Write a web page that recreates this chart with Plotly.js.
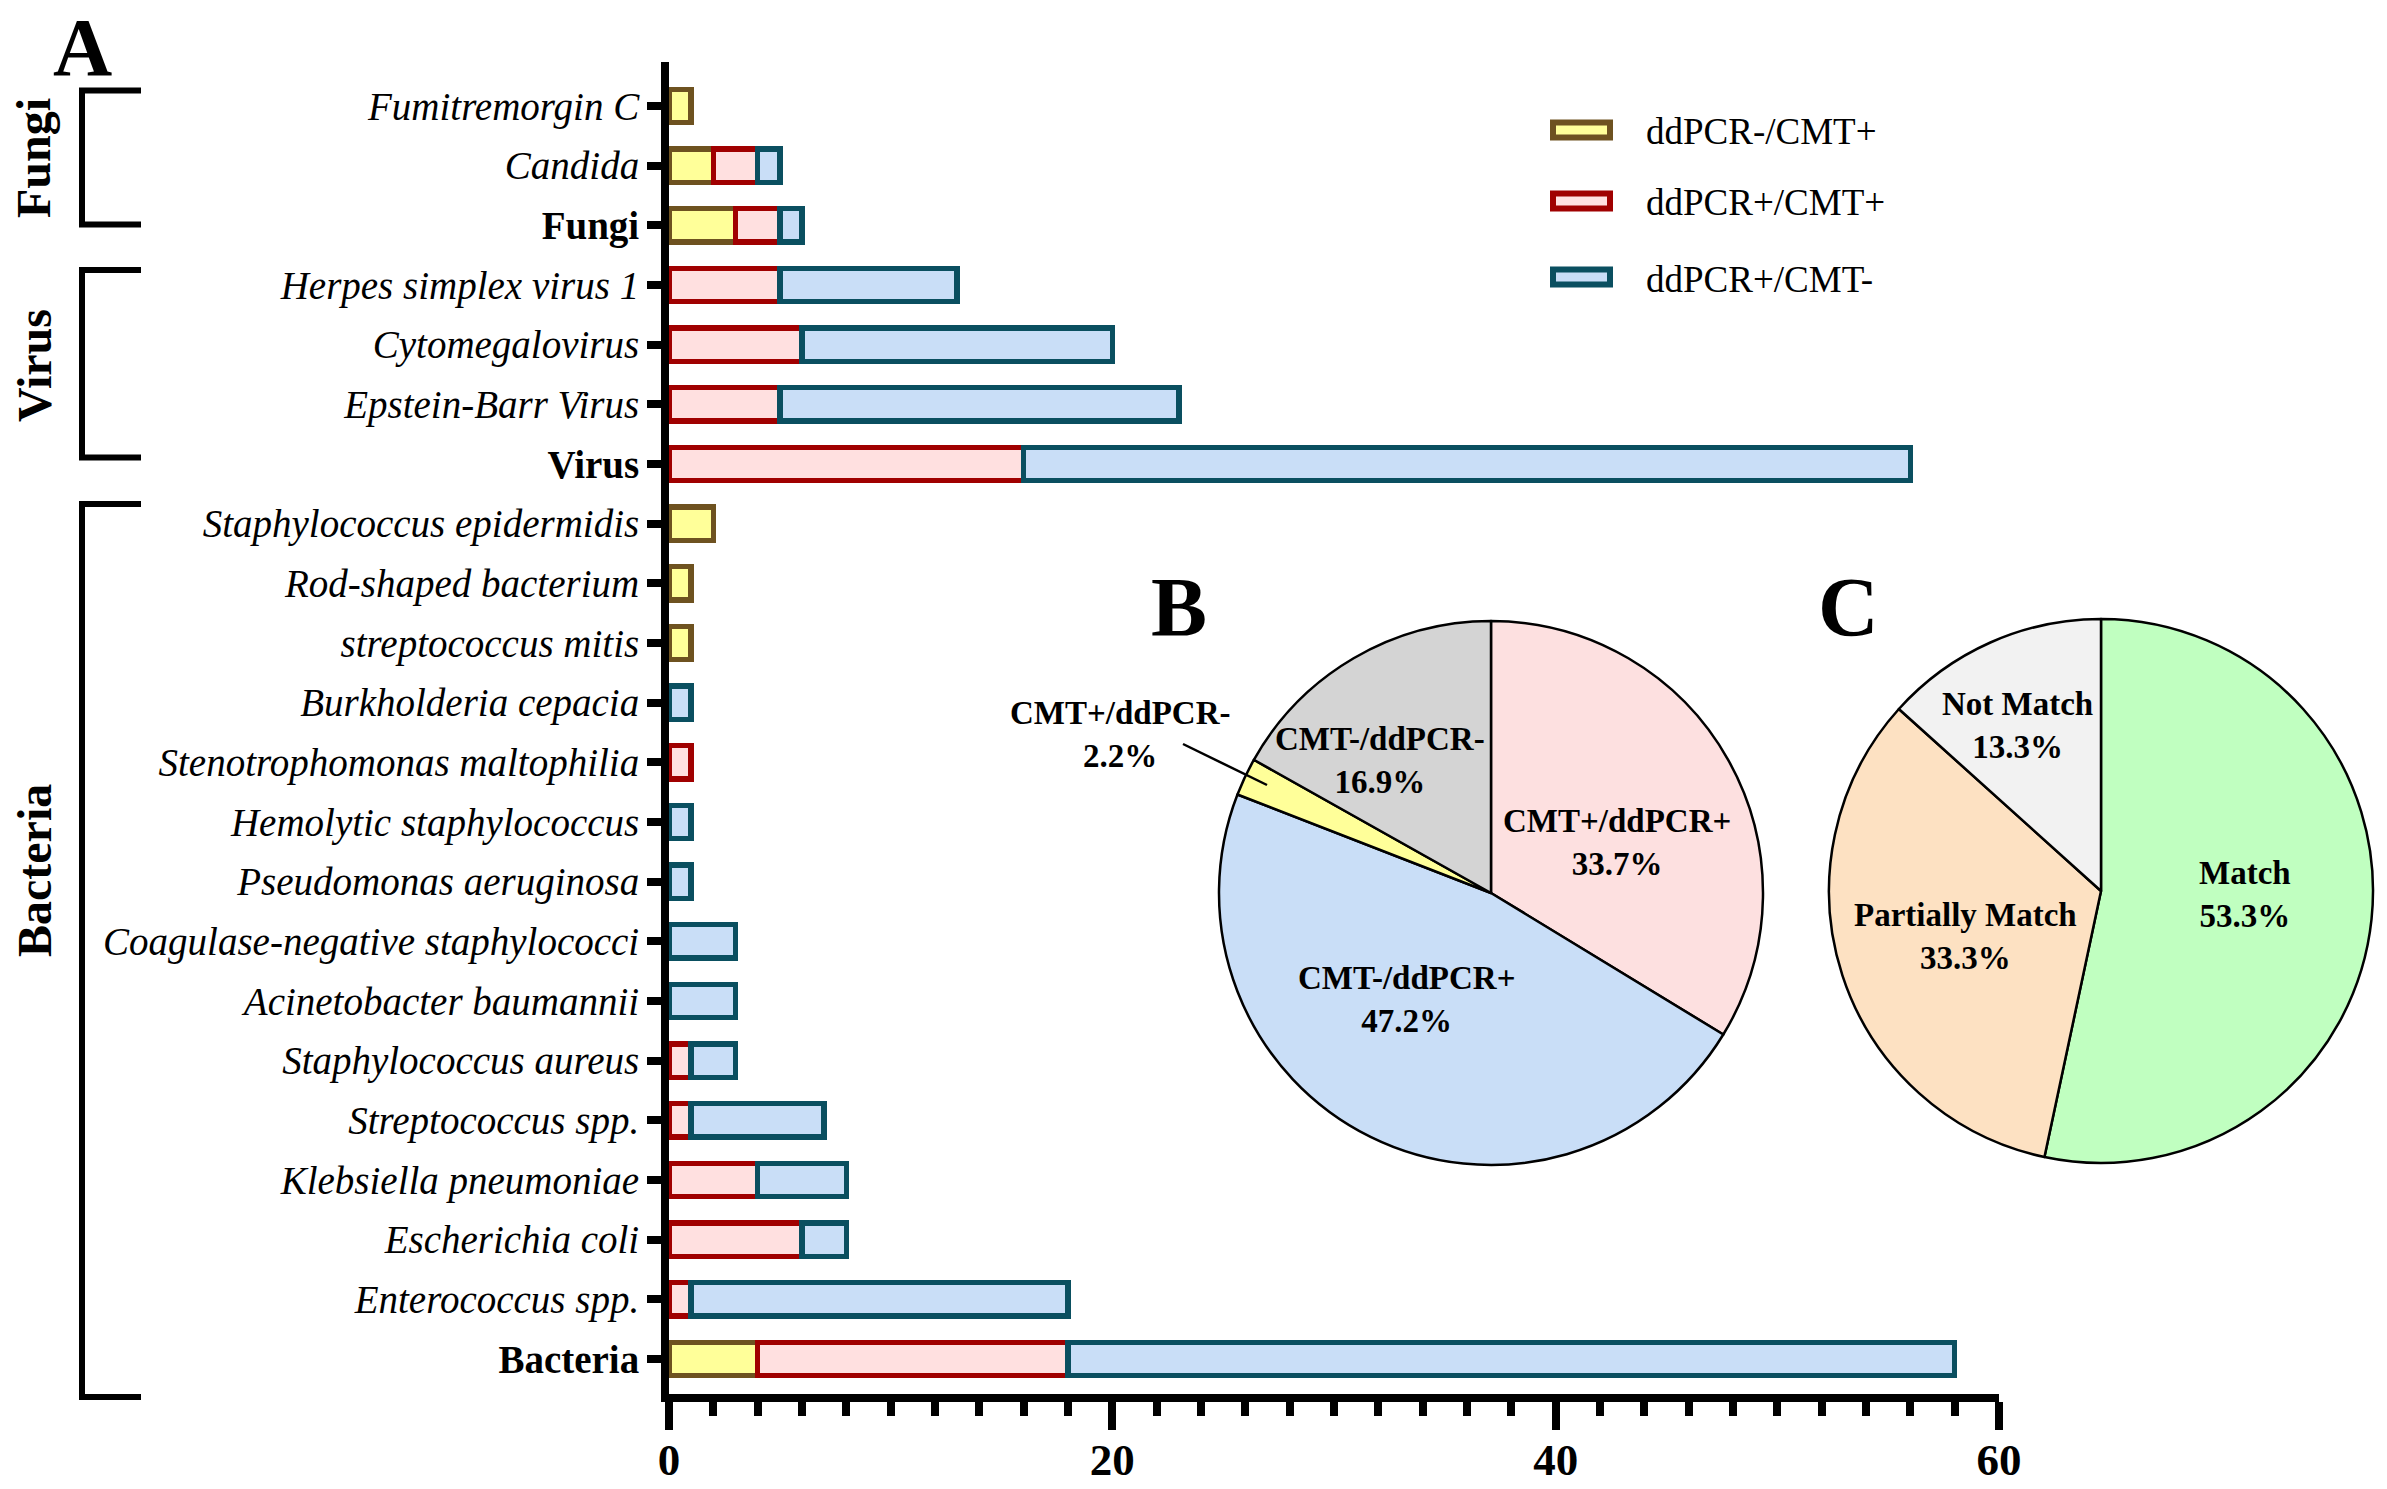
<!DOCTYPE html>
<html>
<head>
<meta charset="utf-8">
<script src="https://cdn.plot.ly/plotly-3.0.1.min.js"></script>
<style>html,body{margin:0;padding:0;background:#fff;}</style>
</head>
<body>
<div id="chart" style="width:2387px;height:1489px;"></div>
<script>
// ---------- data (top-to-bottom order as in the figure) ----------
const categories = ['Fumitremorgin C','Candida','Fungi','Herpes simplex virus 1','Cytomegalovirus','Epstein-Barr Virus','Virus',
  'Staphylococcus epidermidis','Rod-shaped bacterium','streptococcus mitis','Burkholderia cepacia','Stenotrophomonas maltophilia',
  'Hemolytic staphylococcus','Pseudomonas aeruginosa','Coagulase-negative staphylococci','Acinetobacter baumannii',
  'Staphylococcus aureus','Streptococcus spp.','Klebsiella pneumoniae','Escherichia coli','Enterococcus spp.','Bacteria'];
const groupRows = ['Fungi','Virus','Bacteria'];
const ddNegCmtPos = [1,2,3,0,0,0,0,2,1,1,0,0,0,0,0,0,0,0,0,0,0,4];
const ddPosCmtPos = [0,2,2,5,6,5,16,0,0,0,0,1,0,0,0,0,1,1,4,6,1,14];
const ddPosCmtNeg = [0,1,1,8,14,18,40,0,0,0,1,0,1,1,3,3,2,6,4,2,17,40];
const seriesNames = ['ddPCR-/CMT+','ddPCR+/CMT+','ddPCR+/CMT-'];
const xTickVals = [0,20,40,60];

const pieBLabels = ['CMT+/ddPCR+','CMT-/ddPCR+','CMT+/ddPCR-','CMT-/ddPCR-'];
const pieBValues = [30,42,2,15];
const pieCLabels = ['Match','Partially Match','Not Match'];
const pieCValues = [8,5,2];

// ---------- styles ----------
const W = 2387, H = 1489;
const FONT = 'Liberation Serif';
const fills = ['#ffff99','#ffe0e0','#c9def7'];
const edges = ['#6e5220','#a00000','#0a4f60'];
const pieBColors = ['#fde0e0','#c9def7','#ffff99','#d4d4d4'];
const pieCColors = ['#c0ffc0','#fde1c2','#f2f2f2'];
const px = x => x / W;
const py = y => 1 - y / H;

const order = categories.slice().reverse(); // bottom to top
const nz = arr => arr.map(v => v === 0 ? null : v);
const seriesVals = [ddNegCmtPos, ddPosCmtPos, ddPosCmtNeg];

const traces = seriesVals.map((vals, i) => ({
  type: 'bar', orientation: 'h', name: seriesNames[i],
  y: categories, x: nz(vals), width: 0.56,
  marker: {color: fills[i], line: {color: edges[i], width: 5.5}},
  xaxis: 'x', yaxis: 'y', hoverinfo: 'x+y+name'
}));

function pieDomain(cx, cy, r) {
  return {x: [px(cx - r), px(cx + r)], y: [py(cy + r), py(cy - r)]};
}
traces.push({
  type: 'pie', labels: pieBLabels, values: pieBValues, sort: false, direction: 'clockwise', rotation: 0,
  marker: {colors: pieBColors, line: {color: '#000', width: 2.5}}, textinfo: 'none',
  domain: pieDomain(1491, 893, 272), showlegend: false
});
traces.push({
  type: 'pie', labels: pieCLabels, values: pieCValues, sort: false, direction: 'clockwise', rotation: 0,
  marker: {colors: pieCColors, line: {color: '#000', width: 2.5}}, textinfo: 'none',
  domain: pieDomain(2101, 891, 272), showlegend: false
});

const ticktext = order.map(c => groupRows.includes(c) ? '<b>' + c + '</b>' : '<i>' + c + '</i>');

const annotations = [];
function ann(x, y, text, size, opt) {
  annotations.push(Object.assign({
    xref: 'paper', yref: 'paper', x: px(x), y: py(y), text: text, showarrow: false,
    xanchor: 'center', yanchor: 'middle',
    font: {family: FONT, size: size, color: '#000'}
  }, opt || {}));
}
// panel letters
ann(82, 0, '<b>A</b>', 82, {yanchor: 'top'});
ann(1179, 607, '<b>B</b>', 84);
ann(1849, 607, '<b>C</b>', 84);
// group labels
ann(34, 158, '<b>Fungi</b>', 48, {textangle: -90});
ann(34, 366, '<b>Virus</b>', 48, {textangle: -90});
ann(34, 871, '<b>Bacteria</b>', 48, {textangle: -90});
// legend
const legendY = [130, 201, 277];
seriesNames.forEach((n, i) => ann(1644, legendY[i] + 2, n, 37, {xanchor: 'left'}));

// pie labels
const pct = (v, arr) => (100 * v / arr.reduce((a, b) => a + b, 0)).toFixed(1) + '%';
const pieBPos = [[1617, 842], [1406, 999], [1120, 735], [1380, 760]];
pieBLabels.forEach((l, i) => ann(pieBPos[i][0], pieBPos[i][1], '<b>' + l + '<br>' + pct(pieBValues[i], pieBValues) + '</b>', 33));
const pieCPos = [[2245, 894], [1965, 936], [2017, 725]];
pieCLabels.forEach((l, i) => ann(pieCPos[i][0], pieCPos[i][1], '<b>' + l + '<br>' + pct(pieCValues[i], pieCValues) + '</b>', 33));

// shapes: brackets, legend swatches, leader line
const shapes = [];
function bracket(top, bottom) {
  shapes.push({type: 'path', xref: 'paper', yref: 'paper', line: {color: '#000', width: 6},
    path: `M${px(141)},${py(top)} L${px(82)},${py(top)} L${px(82)},${py(bottom)} L${px(141)},${py(bottom)}`});
}
bracket(90.5, 224.5);
bracket(270, 457.5);
bracket(504, 1397);
legendY.forEach((y, i) => shapes.push({type: 'rect', xref: 'paper', yref: 'paper',
  x0: px(1553), x1: px(1610), y0: py(y - 7.5), y1: py(y + 7.5),
  fillcolor: fills[i], line: {color: edges[i], width: 6}}));
shapes.push({type: 'line', xref: 'paper', yref: 'paper', x0: px(1183), y0: py(744), x1: px(1267), y1: py(785),
  line: {color: '#000', width: 2.5}});

const layout = {
  width: W, height: H, autosize: false,
  margin: {l: 0, r: 0, t: 0, b: 0, pad: 0},
  paper_bgcolor: '#fff', plot_bgcolor: 'rgba(0,0,0,0)',
  barmode: 'stack', bargap: 0.4, showlegend: false,
  font: {family: FONT, color: '#000'},
  xaxis: {
    domain: [px(669), px(1999)], range: [0, 60], automargin: false,
    tickmode: 'array', tickvals: xTickVals, ticktext: xTickVals.map(String),
    ticks: 'outside', ticklen: 28, tickwidth: 8, tickcolor: '#000',
    ticklabelstandoff: -9,
    showline: true, linewidth: 8, linecolor: '#000', showgrid: false, zeroline: false,
    tickfont: {family: FONT, size: 45, color: '#000', weight: 'bold'},
    minor: {tickmode: 'linear', tick0: 0, dtick: 2, ticks: 'outside', ticklen: 14, tickwidth: 8, tickcolor: '#000', showgrid: false},
    fixedrange: true
  },
  yaxis: {
    type: 'category', categoryorder: 'array', categoryarray: order,
    domain: [py(1394), py(62)], range: [-0.587, 21.737], automargin: false,
    tickmode: 'array', tickvals: order, ticktext: ticktext,
    ticks: 'outside', ticklen: 14, tickwidth: 8, tickcolor: '#000',
    showline: true, linewidth: 8, linecolor: '#000', showgrid: false, zeroline: false,
    tickfont: {family: FONT, size: 39, color: '#000'},
    fixedrange: true
  },
  annotations: annotations,
  shapes: shapes
};

Plotly.newPlot('chart', traces, layout, {displayModeBar: false, staticPlot: true});
</script>
</body>
</html>
